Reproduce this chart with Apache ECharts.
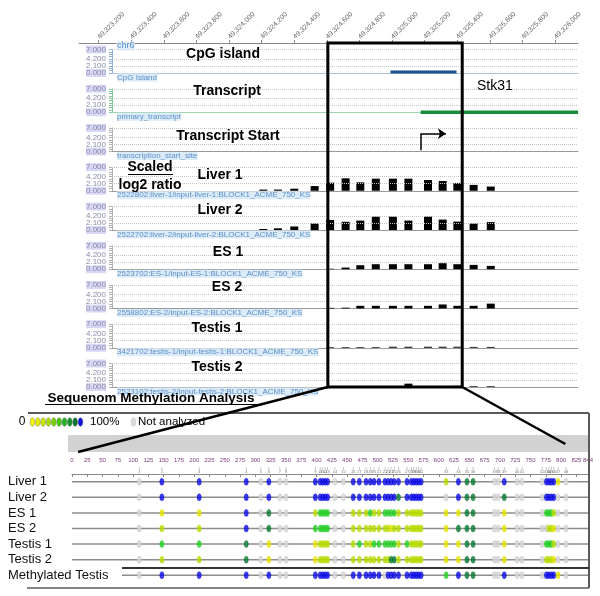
<!DOCTYPE html>
<html>
<head>
<meta charset="utf-8">
<title>Stk31 CpG island methylation</title>
<script src="https://cdn.jsdelivr.net/npm/echarts@6.0.0/dist/echarts.min.js"></script>
<style>
  html, body { margin: 0; padding: 0; background: #fff; }
  #main { width: 600px; height: 596px; }
</style>
</head>
<body>
<div id="main"></div>
<script>
// ---- genome browser part (chr6) ----
const axisTicks = [49323200, 49323400, 49323600, 49323800, 49324000, 49324200, 49324400,
  49324600, 49324800, 49325000, 49325200, 49325400, 49325600, 49325800, 49326000];
const viewRange = [49323080, 49326140];
const zoomRegion = [49324606, 49325430];      // region analysed by Sequenom
const cpgIsland = [49324990, 49325395];
const transcript = [49325175, 49326140];
const tssStem = [[49325175, 0.4], [49325175, 5.3]];
const tssHead = [[49325175, 5.3], [49325330, 5.3]];

const trackNames = ['CpG island', 'Transcript', 'Transcript Start', 'Liver 1', 'Liver 2',
  'ES 1', 'ES 2', 'Testis 1', 'Testis 2'];
const trackIds = ['CpG Island', 'primary_transcript', 'transcription_start_site',
  '2522802:liver-1/input-liver-1:BLOCK1_ACME_750_KS',
  '2522702:liver-2/input-liver-2:BLOCK1_ACME_750_KS',
  '2523702:ES-1/input-ES-1:BLOCK1_ACME_750_KS',
  '2558802:ES-2/input-ES-2:BLOCK1_ACME_750_KS',
  '3421702:testis-1/input-testis-1:BLOCK1_ACME_750_KS',
  '2523102:testis-2/input-testis-2:BLOCK1_ACME_750_KS'];
const yTickLabels = [0, 2.1, 4.2, 7];

// probe positions and scaled log2 ratios
const probePos = [49324210, 49324300, 49324400, 49324525, 49324620, 49324715, 49324805, 49324900,
  49325005, 49325100, 49325220, 49325310, 49325400, 49325500, 49325605];
const liver1 = [0.35, 0.35, 0.6, 1.4, 2.4, 3.7, 2.5, 3.6, 3.6, 3.6, 3.2, 2.9, 2.3, 1.75, 1.25];
const liver2 = [0.3, 0.5, 1.05, 1.95, 3.0, 2.45, 2.8, 4.0, 4.0, 2.8, 4.0, 3.1, 2.5, 1.95, 2.35];
const es1 = [0, 0, 0, 0, 0.15, 0.5, 1.2, 1.5, 1.5, 1.5, 1.5, 1.8, 1.5, 1.3, 1.0];
const es2 = [0, 0, 0, 0, 0.2, 0.25, 0.8, 0.8, 0.8, 0.8, 0.8, 1.2, 0.8, 0.8, 1.45];
const testis1 = [0, 0, 0, 0, 0.2, 0.2, 0.2, 0.2, 0.3, 0.3, 0.3, 0.3, 0.3, 0.25, 0.25];
const testis2 = [0, 0, 0, 0, 0, 0, 0.2, 0.2, 0.3, 1.0, 0.3, 0.3, 0.35, 0.2, 0.2];
const ratioTracks = { 3: liver1, 4: liver2, 5: es1, 6: es2, 7: testis1, 8: testis2 };

// ---- Sequenom part ----
const rulerMax = 844;
const cpgSites = [110, 147, 208, 285, 309, 322, 340, 350, 398, 406, 410, 414, 418, 430, 444, 460,
  470, 481, 488, 494, 502, 512, 517, 522, 527, 534, 548, 555, 559, 563, 567, 571, 612, 632, 646,
  656, 691, 697, 707, 728, 736, 769, 776, 780, 784, 788, 795, 808];
const sampleNames = ['Liver 1', 'Liver 2', 'ES 1', 'ES 2', 'Testis 1', 'Testis 2', 'Methylated Testis'];
// y = low, l = low-mid, G = mid, d = high, b = 100%, g = not analyzed
const methLiver1 = 'gbbbgbgg' + 'bbbbbggbbbbbbbbbbbbbbbbb' + 'lbddggbgggbbbbyg';
const methLiver2 = 'gbbbgbgg' + 'bbbbbggbbbbbbbbbbdbbbbbb' + 'gbddggdgggbbbbgg';
const methEs1 = 'gyybgdgg' + 'lGGGGgglllGllGGGGllllll' + 'l' + 'yyddggygggGGGlgg';
const methEs2 = 'gllbgdgg' + 'GGGGGggllllllllylllllll' + 'l' + 'ydddggygggglly' + 'gg';
const methTestis1 = 'gGGdgygg' + 'yllllgglGllGGGGGGlGllll' + 'l' + 'yyddggygggGGGlgg';
const methTestis2 = 'glldgygg' + 'yllllggllllllllddlllllll' + 'yyddggygggllly' + 'gg';
const methTestisM = 'gbbbgbgg' + 'bbbbbggbbbbbbgbbbbbbbbbb' + 'Gbddggbgggbbbbyg';
const methRows = [methLiver1, methLiver2, methEs1, methEs2, methTestis1, methTestis2, methTestisM];
const legendColors = ['#f2f200', '#e2ee00', '#c8e600', '#a6de00', '#78d400', '#44c800',
  '#20b424', '#14942c', '#0a7432', '#1010e0'];

const methColor = { y: '#e4e400', l: '#b6dc00', G: '#24d024', d: '#0a7a32', b: '#0c0ce6', g: '#dadada' };

const FONT = "'Liberation Sans', Arial, sans-serif";
const PLOT_LEFT = 79, TRACK_LEFT = 112, PLOT_RIGHT = 578;
const BASE0 = 73, STEP = 39.25, TRACK_H = 23.5;
const METH_LEFT = 72, METH_RIGHT = 588;
const bpPerPx = (viewRange[1] - viewRange[0]) / (PLOT_RIGHT - PLOT_LEFT);
const trackStart = viewRange[0] + (TRACK_LEFT - PLOT_LEFT) * bpPerPx;
const lastRowStart = (122 - METH_LEFT) * rulerMax / (METH_RIGHT - METH_LEFT);
const baseColors = ['#a9c3dc', '#9fd2b0', '#9a9a9a', '#9a9a9a', '#9a9a9a', '#9a9a9a', '#9a9a9a', '#9a9a9a', '#9a9a9a'];
const yAxisColors = ['#8fb0d4', '#7fc79a', '#b0b0b0', '#b0b0b0', '#b0b0b0', '#b0b0b0', '#b0b0b0', '#b0b0b0', '#b0b0b0'];
const titleX = [223, 227, 228, 220, 220, 228, 227, 217, 217];
const titleY = [54, 91, 136, 175, 210, 252, 287, 328, 367];

const chart = echarts.init(document.getElementById('main'));

const grids = [], xAxes = [], yAxes = [], extraY = [], series = [];
const gridMark = {
  silent: true, symbol: ['none', 'none'], label: { show: false }, animation: false,
  lineStyle: { type: 'dotted', color: '#c4c4c4', width: 1 },
  data: [{ yAxis: 2.1 }, { yAxis: 4.2 }, { yAxis: 7 }]
};
const yLabel = values => ({
  customValues: values, fontSize: 8, color: '#8a8aa8', margin: 6, fontFamily: FONT,
  showMinLabel: true, showMaxLabel: true,
  formatter: v => (v === 0 || v === 7) ? '{hl|' + v.toFixed(3) + '}' : v.toFixed(3),
  rich: { hl: { backgroundColor: '#d8d8f6', fontSize: 8, color: '#8a8aa8', fontFamily: FONT } }
});

trackNames.forEach((name, i) => {
  const base = BASE0 + i * STEP;
  grids.push({ left: TRACK_LEFT, right: 600 - PLOT_RIGHT, top: base - TRACK_H, height: TRACK_H });
  xAxes.push({
    gridIndex: i, type: 'value', min: trackStart, max: viewRange[1],
    axisLine: { show: true, onZero: false, lineStyle: { color: baseColors[i], width: 1 } },
    axisTick: { show: false }, axisLabel: { show: false }, splitLine: { show: false }
  });
  // labels are split across two left axes so the close 0.000 / 2.100 pair both stay visible
  yAxes.push({
    gridIndex: i, type: 'value', position: 'left', min: 0, max: 7, interval: 0.7,
    axisLine: { show: true, lineStyle: { color: yAxisColors[i] } },
    axisTick: { show: true, length: 3, lineStyle: { color: yAxisColors[i] } },
    axisLabel: yLabel(yTickLabels.filter((v, k) => k % 2 === 0)),
    splitLine: { show: false }
  });
  extraY.push({
    gridIndex: i, type: 'value', position: 'left', offset: 0, min: 0, max: 7, interval: 0.7,
    axisLine: { show: false }, axisTick: { show: false }, splitLine: { show: false },
    axisLabel: yLabel(yTickLabels.filter((v, k) => k % 2 === 1))
  });
  series.push({ type: 'line', xAxisIndex: i, yAxisIndex: i, data: [], silent: true, markLine: gridMark });
  if (ratioTracks[i]) {
    series.push({
      type: 'bar', name: name, xAxisIndex: i, yAxisIndex: i, barWidth: 8,
      itemStyle: { color: '#000' },
      data: probePos.map((p, k) => [p, ratioTracks[i][k]])
    });
  }
});

series.push({
  type: 'line', xAxisIndex: 0, yAxisIndex: 0, symbol: 'none', z: 5,
  lineStyle: { color: '#1d4f8c', width: 3 },
  data: [[cpgIsland[0], 0.3], [cpgIsland[1], 0.3]]
});
series.push({
  type: 'line', xAxisIndex: 1, yAxisIndex: 1, symbol: 'none', z: 5,
  lineStyle: { color: '#1a8a3c', width: 3.5 },
  data: [[transcript[0], 0], [transcript[1], 0]]
});
series.push({
  type: 'lines', coordinateSystem: 'cartesian2d', xAxisIndex: 2, yAxisIndex: 2,
  symbol: 'none', symbolSize: 8, z: 5,
  lineStyle: { color: '#000', width: 1.5, opacity: 1 },
  data: [{ coords: tssStem }, { coords: tssHead, symbol: ['none', 'arrow'] }]
});

// top coordinate axis (grid 9)
grids.push({ left: PLOT_LEFT, right: 600 - PLOT_RIGHT, top: 42, height: 1 });
xAxes.push({
  gridIndex: 9, type: 'value', position: 'top', min: viewRange[0], max: viewRange[1],
  axisLine: { show: true, lineStyle: { color: '#888' } },
  axisTick: { show: true, customValues: axisTicks, length: 3, lineStyle: { color: '#888' } },
  axisLabel: {
    customValues: axisTicks, rotate: 45, fontSize: 7, color: '#666', margin: 4, fontFamily: FONT,
    formatter: v => v.toLocaleString('en-US')
  },
  splitLine: { show: false }
});
yAxes.push({ gridIndex: 9, type: 'value', show: false });

// Sequenom ruler + site numbers (grid 10)
grids.push({ left: METH_LEFT, right: 600 - METH_RIGHT, top: 465, height: 9 });
xAxes.push({
  gridIndex: 10, type: 'value', position: 'top', min: 0, max: rulerMax, interval: 25,
  axisLine: { show: true, lineStyle: { color: '#8a8a8a' } },
  axisTick: { show: true, inside: true, length: 3, lineStyle: { color: '#8a8a8a' } },
  axisLabel: { fontSize: 6, color: '#7a3c7a', margin: 2, fontFamily: FONT },
  splitLine: { show: false }
});
yAxes.push({ gridIndex: 10, type: 'value', min: 0, max: 1, show: false });
series.push({
  type: 'scatter', xAxisIndex: 10, yAxisIndex: 10, symbol: 'rect', symbolSize: [0.6, 2.5],
  itemStyle: { color: '#777' }, silent: true,
  label: { show: true, position: 'bottom', distance: 0.5, fontSize: 4, color: '#555', formatter: p => p.data[2] },
  data: cpgSites.map((p, i) => [p, 0.6, i + 1])
});

// methylation rows (grid 11)
grids.push({ left: METH_LEFT, right: 600 - METH_RIGHT, top: 474, height: 109 });
xAxes.push({ gridIndex: 11, type: 'value', min: 0, max: rulerMax, show: false });
yAxes.push({
  gridIndex: 11, type: 'category', data: sampleNames, inverse: true,
  axisLine: { show: false }, axisTick: { show: false }, splitLine: { show: false },
  axisLabel: { interval: 0, fontSize: 13, color: '#111', align: 'left', margin: 64, fontFamily: FONT }
});
sampleNames.forEach((s, r) => {
  series.push({
    type: 'line', xAxisIndex: 11, yAxisIndex: 11, symbol: 'none', silent: true,
    lineStyle: { color: '#8c8c8c', width: 1.5 },
    data: [[r === sampleNames.length - 1 ? lastRowStart : 0, r], [rulerMax, r]]
  });
});
const methPts = [];
methRows.forEach((row, r) => {
  cpgSites.forEach((p, i) => {
    const c = row[i];
    methPts.push({
      value: [p, r],
      itemStyle: { color: methColor[c], borderColor: c === 'g' ? '#b4b4b4' : methColor[c], borderWidth: 0.5 }
    });
  });
});
series.push({
  type: 'scatter', xAxisIndex: 11, yAxisIndex: 11, symbol: 'circle', symbolSize: [4.2, 7],
  z: 4, data: methPts
});

chart.setOption({
  animation: false,
  textStyle: { fontFamily: FONT },
  grid: grids, xAxis: xAxes, yAxis: yAxes.concat(extraY), series: series
});

// ---- annotations ----
const g = [];
const txt = (text, x, y, font, fill, align, extra) => g.push({
  type: 'text', z: 50,
  style: Object.assign({ text, x, y, font, fill: fill || '#000', align: align || 'left', verticalAlign: 'middle' }, extra || {})
});
const line = (x1, y1, x2, y2, stroke, w, z) => g.push({
  type: 'line', z: z || 60, shape: { x1, y1, x2, y2 }, style: { stroke, lineWidth: w }
});

trackNames.forEach((name, i) => {
  const base = BASE0 + i * STEP;
  txt(name, titleX[i], titleY[i], 'bold 14px ' + FONT, '#000', 'center');
  txt(trackIds[i], 117, base + 4.5, '8px ' + FONT, '#5b8fc8', 'left', { backgroundColor: '#dcebf8' });
});
txt('chr6', 117, 46, '9px ' + FONT, '#5b8fc8', 'left', { backgroundColor: '#dcebf8' });
txt('Scaled', 150, 167, 'bold 14px ' + FONT, '#000', 'center');
line(128, 174.5, 173, 174.5, '#000', 1.2, 50);
txt('log2 ratio', 150, 185, 'bold 14px ' + FONT, '#000', 'center');
txt('Stk31', 477, 86, '14px ' + FONT, '#000', 'left');

// Sequenom panel
txt('Sequenom Methylation Analysis', 151, 398, 'bold 13.5px ' + FONT, '#000', 'center');
line(45, 404.5, 257, 404.5, '#000', 1.2, 50);
g.push({ type: 'rect', z: 1, shape: { x: 68, y: 435, width: 520, height: 17 }, style: { fill: '#d2d2d2' } });
line(28, 413, 589, 413, '#5a5a5a', 2, 40);
line(589, 413, 589, 588, '#5a5a5a', 2, 40);
line(27, 588, 589, 588, '#5a5a5a', 1.5, 40);
line(122, 568, 589, 568, '#333', 2, 40);
txt('0', 22, 422, '12px ' + FONT, '#000', 'center');
legendColors.forEach((c, k) => g.push({
  type: 'ellipse', z: 50, shape: { cx: 32.5 + k * 5.33, cy: 422, rx: 2.4, ry: 4.3 },
  style: { fill: c, stroke: '#666', lineWidth: 0.4 }
}));
txt('100%', 90, 422, '11.5px ' + FONT, '#000', 'left');
g.push({ type: 'ellipse', z: 50, shape: { cx: 133.5, cy: 422, rx: 2.4, ry: 4.3 }, style: { fill: '#dadada', stroke: '#bbb', lineWidth: 0.5 } });
txt('Not analyzed', 138, 422, '11.5px ' + FONT, '#000', 'left');

// zoom box and connectors, placed through the track x scale
const bx0 = chart.convertToPixel({ xAxisIndex: 0 }, zoomRegion[0]);
const bx1 = chart.convertToPixel({ xAxisIndex: 0 }, zoomRegion[1]);
const boxBottom = BASE0 + 8 * STEP;
g.push({
  type: 'rect', z: 70, shape: { x: bx0, y: 43, width: bx1 - bx0, height: boxBottom - 43 },
  style: { fill: 'none', stroke: '#000', lineWidth: 3 }
});
const rx0 = chart.convertToPixel({ xAxisIndex: 10 }, 10);
const rx1 = chart.convertToPixel({ xAxisIndex: 10 }, 807);
line(bx0, boxBottom, rx0, 452, '#000', 2.5, 70);
line(bx1, boxBottom, rx1, 444, '#000', 2.5, 70);

chart.setOption({ graphic: g });
</script>
</body>
</html>
